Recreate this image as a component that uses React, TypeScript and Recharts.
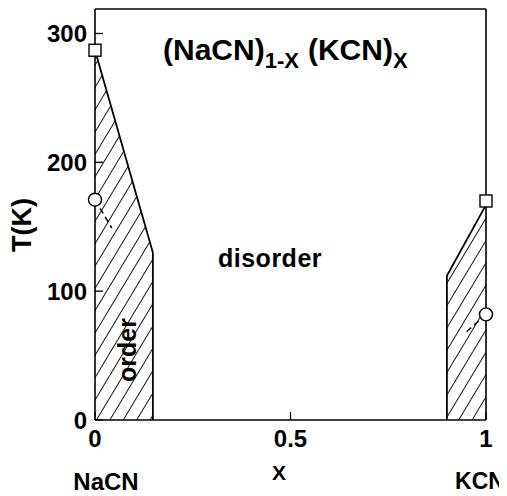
import { Area, ComposedChart, Line, Scatter, XAxis, YAxis } from "recharts";

// phase boundary of the ordered NaCN-rich side (x, T in K)
const naEdgeX = [0, 0.148, 0.148];
const naEdgeT = [287, 130, 0];

// phase boundary of the ordered KCN-rich side
const kEdgeX = [0.9, 0.9, 1];
const kEdgeT = [0, 112, 167];

// open squares and circles at the pure compounds
const squareX = [0, 1];
const squareT = [287, 170];
const circleX = [0, 1];
const circleT = [171, 82];

// short dashed continuations from the circles
const naDashX = [0, 0.043];
const naDashT = [171, 149];
const kDashX = [1, 0.945];
const kDashT = [82, 67];

const xTicks = [0, 0.5, 1];
const yTicks = [0, 100, 200, 300];
const topTicks = [0.5];
const rightTicks = [100, 200, 300];

const W = 499;
const H = 488;
const FONT = "'Liberation Sans', Arial, sans-serif";

function toPoints(xs: number[], ts: number[]) {
  return xs.map((x, i) => ({ x, t: ts[i] }));
}

const naEdge = toPoints(naEdgeX, naEdgeT);
const kEdge = toPoints(kEdgeX, kEdgeT);
const naFill = naEdge.filter((p) => p.t > 0);
const kFill = kEdge.filter((p) => p.t > 0);
const squares = toPoints(squareX, squareT);
const circles = toPoints(circleX, circleT);
const naDash = toPoints(naDashX, naDashT);
const kDash = toPoints(kDashX, kDashT);

const tickStyle = { fill: "#000", fontSize: 24, fontWeight: 700, fontFamily: FONT };
const axisLine = { stroke: "#000", strokeWidth: 1.6 };
const tickLine = { stroke: "#000", strokeWidth: 1.3 };

function SquareMark(props: any) {
  const { cx, cy } = props;
  return (
    <rect x={cx - 6} y={cy - 6} width={12} height={12} fill="#fff" stroke="#000" strokeWidth={1.4} />
  );
}

function CircleMark(props: any) {
  const { cx, cy } = props;
  return <circle cx={cx} cy={cy} r={6.5} fill="#fff" stroke="#000" strokeWidth={1.4} />;
}

export default function App() {
  return (
    <div style={{ position: "relative", width: W, height: H }}>
      <ComposedChart width={W} height={H} margin={{ top: 0, right: 0, bottom: 0, left: 0 }}>
        <defs>
          <pattern
            id="hatch"
            patternUnits="userSpaceOnUse"
            width={11.5}
            height={10}
            patternTransform="rotate(31)"
          >
            <rect x={0} y={0} width={0.9} height={10} fill="#000" />
          </pattern>
        </defs>

        <XAxis
          dataKey="x"
          type="number"
          domain={[0, 1]}
          ticks={xTicks}
          height={76}
          tickSize={-8}
          tickMargin={18}
          tick={tickStyle}
          axisLine={axisLine}
          tickLine={tickLine}
        />
        <XAxis
          xAxisId="top"
          orientation="top"
          type="number"
          domain={[0, 1]}
          ticks={topTicks}
          height={1}
          tickSize={-8}
          tick={false}
          axisLine={axisLine}
          tickLine={tickLine}
        />
        <YAxis
          dataKey="t"
          type="number"
          domain={[0, 319]}
          ticks={yTicks}
          width={87}
          tickSize={-8}
          tickMargin={16}
          tick={tickStyle}
          axisLine={axisLine}
          tickLine={tickLine}
        />
        <YAxis
          yAxisId="right"
          orientation="right"
          type="number"
          domain={[0, 319]}
          ticks={rightTicks}
          width={21}
          tickSize={-8}
          tick={false}
          axisLine={axisLine}
          tickLine={tickLine}
        />

        <Area
          data={naFill}
          dataKey="t"
          type="linear"
          fill="url(#hatch)"
          fillOpacity={1}
          stroke="none"
          isAnimationActive={false}
        />
        <Area
          data={kFill}
          dataKey="t"
          type="linear"
          fill="url(#hatch)"
          fillOpacity={1}
          stroke="none"
          isAnimationActive={false}
        />

        <Line data={naEdge} dataKey="t" type="linear" stroke="#000" strokeWidth={1.8} dot={false} isAnimationActive={false} />
        <Line data={kEdge} dataKey="t" type="linear" stroke="#000" strokeWidth={1.8} dot={false} isAnimationActive={false} />
        <Line
          data={naDash}
          dataKey="t"
          type="linear"
          stroke="#000"
          strokeWidth={1.6}
          strokeDasharray="6 4"
          dot={false}
          isAnimationActive={false}
        />
        <Line
          data={kDash}
          dataKey="t"
          type="linear"
          stroke="#000"
          strokeWidth={1.6}
          strokeDasharray="6 4"
          dot={false}
          isAnimationActive={false}
        />

        <Scatter data={squares} shape={SquareMark} isAnimationActive={false} />
        <Scatter data={circles} shape={CircleMark} isAnimationActive={false} />
      </ComposedChart>

      <svg
        width={W}
        height={H}
        style={{ position: "absolute", left: 0, top: 0, pointerEvents: "none" }}
        fontFamily={FONT}
        fontWeight={700}
        fill="#000"
      >
        <text x={155} y={52} fontSize={30}>
          (NaCN)
          <tspan fontSize={22} dy={8}>1-X</tspan>
          <tspan fontSize={30} dx={9} dy={-8}>(KCN)</tspan>
          <tspan fontSize={22} dy={8}>X</tspan>
        </text>
        <text x={262} y={259} fontSize={25} textAnchor="middle" letterSpacing={0.5}>
          disorder
        </text>
        <text
          x={119}
          y={342}
          fontSize={25}
          textAnchor="middle"
          dominantBaseline="central"
          transform="rotate(-90 119 342)"
        >
          order
        </text>
        <text
          x={13.5}
          y={217}
          fontSize={27}
          textAnchor="middle"
          dominantBaseline="central"
          transform="rotate(-90 13.5 217)"
        >
          T(K)
        </text>
        <text x={271} y={472} fontSize={21} textAnchor="middle">
          X
        </text>
        <text x={98} y={482} fontSize={24} textAnchor="middle">
          NaCN
        </text>
        <text x={472} y={481} fontSize={23} textAnchor="middle">
          KCN
        </text>
      </svg>
    </div>
  );
}
